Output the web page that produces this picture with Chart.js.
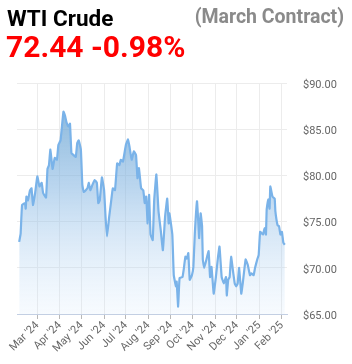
<!DOCTYPE html>
<html lang="en">
<head>
    <meta charset="UTF-8">
    <title>WTI Crude</title>
    <script src="https://cdn.jsdelivr.net/npm/chart.js@4"></script>
    <style>
        body { margin: 0; background: #fff; font-family: Roboto, sans-serif; }
        #wrap { position: relative; width: 352px; height: 364px; overflow: hidden; }
        .hd { position: absolute; font-weight: bold; line-height: 1; white-space: nowrap; }
        #name { left: 7px; top: 7px; font-size: 22.5px; color: #000; }
        #sub { right: 8px; top: 7px; font-size: 19.5px; color: #8a8a8a; }
        #price { left: 6px; top: 32px; font-size: 30px; color: #ff0000; }
        canvas { position: absolute; left: 0; top: 0; }
    </style>
</head>
<body>
<div id="wrap">
    <canvas id="wtiChart" width="352" height="364"></canvas>
    <div class="hd" id="name">WTI Crude</div>
    <div class="hd" id="sub">(March Contract)</div>
    <div class="hd" id="price">72.44 -0.98%</div>
</div>
<script>
// price samples
const dates = [
    '2024-02-05','2024-02-07','2024-02-09','2024-02-13','2024-02-14','2024-02-15','2024-02-17','2024-02-20','2024-02-22','2024-02-24','2024-02-27',
    '2024-03-01','2024-03-04','2024-03-07','2024-03-09','2024-03-13','2024-03-15','2024-03-17','2024-03-19','2024-03-22','2024-03-25','2024-03-28','2024-03-30',
    '2024-04-02','2024-04-06','2024-04-08','2024-04-10','2024-04-13','2024-04-15','2024-04-17','2024-04-20','2024-04-23','2024-04-25','2024-04-27','2024-04-30',
    '2024-05-02','2024-05-04','2024-05-09','2024-05-11','2024-05-13','2024-05-16','2024-05-19','2024-05-22','2024-05-24','2024-05-26','2024-05-29',
    '2024-06-01','2024-06-03','2024-06-05','2024-06-08','2024-06-11','2024-06-13','2024-06-16','2024-06-19','2024-06-22','2024-06-24','2024-06-27',
    '2024-07-01','2024-07-04','2024-07-06','2024-07-09','2024-07-12','2024-07-15','2024-07-17','2024-07-19','2024-07-22','2024-07-25','2024-07-27','2024-07-29','2024-07-31',
    '2024-08-02','2024-08-04','2024-08-07','2024-08-09','2024-08-12','2024-08-15','2024-08-18','2024-08-21','2024-08-24','2024-08-27','2024-08-29','2024-08-30',
    '2024-09-03','2024-09-05','2024-09-08','2024-09-09','2024-09-11','2024-09-13','2024-09-17','2024-09-19','2024-09-21','2024-09-23','2024-09-25','2024-09-27','2024-09-30',
    '2024-10-02','2024-10-04','2024-10-07','2024-10-09','2024-10-10','2024-10-12','2024-10-14','2024-10-15','2024-10-17','2024-10-20','2024-10-23','2024-10-25','2024-10-27','2024-10-30',
    '2024-11-02','2024-11-05','2024-11-07','2024-11-10','2024-11-13','2024-11-16','2024-11-17','2024-11-19','2024-11-21','2024-11-23','2024-11-26','2024-11-28','2024-11-30',
    '2024-12-02','2024-12-04','2024-12-07','2024-12-09','2024-12-13','2024-12-16','2024-12-19','2024-12-21','2024-12-24','2024-12-26','2024-12-29','2024-12-31',
    '2025-01-02','2025-01-06','2025-01-08','2025-01-10','2025-01-11','2025-01-13','2025-01-15','2025-01-16','2025-01-19','2025-01-22','2025-01-23','2025-01-26','2025-01-28','2025-01-30',
    '2025-02-01','2025-02-03','2025-02-05'
];
const prices = [
    72.8, 73.7, 76.8, 77.0, 76.4, 77.7, 77.3, 78.4, 78.6, 76.8, 78.1,
    79.9, 78.8, 79.2, 78.1, 77.6, 80.7, 81.1, 82.8, 80.7, 81.9, 81.7, 83.3,
    83.8, 86.9, 86.5, 85.8, 85.3, 85.6, 82.4, 82.2, 82.0, 83.5, 83.8, 82.8,
    79.0, 78.2, 78.6, 79.2, 78.4, 79.0, 79.5, 79.2, 77.0, 77.3, 79.8,
    78.4, 75.5, 73.4, 75.5, 77.4, 78.6, 78.4, 81.3, 81.1, 81.7, 81.5,
    83.3, 83.9, 83.1, 81.7, 82.6, 82.2, 79.7, 80.8, 78.6, 78.4, 77.0, 77.7, 74.8,
    77.9, 73.6, 73.0, 77.3, 80.1, 76.1, 74.1, 71.9, 75.5, 77.5, 74.8, 75.9,
    73.6, 69.2, 68.0, 68.5, 65.8, 68.9, 69.0, 70.0, 71.2, 71.0, 71.6, 68.7, 69.2,
    70.1, 73.7, 77.2, 74.6, 73.2, 75.9, 74.5, 70.9, 70.0, 70.9, 71.8, 69.0, 70.1, 67.2,
    69.0, 71.2, 72.3, 69.0, 68.3, 69.0, 67.0, 68.7, 69.0, 71.2, 69.4, 68.3, 68.0,
    68.3, 70.0, 67.2, 68.3, 70.9, 70.3, 69.2, 69.4, 69.2, 70.0, 70.9, 71.4,
    73.9, 73.6, 74.3, 73.6, 76.3, 77.4, 76.4, 78.8, 77.7, 77.5, 76.1, 74.6, 74.5, 73.6,
    73.9, 72.7, 72.5
];
const monthTicks = ['2024-03-01','2024-04-01','2024-05-01','2024-06-01','2024-07-01','2024-08-01',
    '2024-09-01','2024-10-01','2024-11-01','2024-12-01','2025-01-01','2025-02-01'];
const monthLabels = ["Mar '24","Apr '24","May '24","Jun '24","Jul '24","Aug '24",
    "Sep '24","Oct '24","Nov '24","Dec '24","Jan '25","Feb '25"];
const priceTicks = [65, 70, 75, 80, 85, 90];

const toMs = s => Date.parse(s + 'T00:00:00Z');
const points = dates.map((d, i) => ({ x: toMs(d), y: prices[i] }));
const tickMs = monthTicks.map(toMs);

const ctx = document.getElementById('wtiChart').getContext('2d');
new Chart(ctx, {
    type: 'line',
    data: {
        datasets: [{
            data: points,
            borderColor: '#7ab3e9',
            borderWidth: 2.2,
            pointRadius: 0,
            tension: 0.1,
            fill: 'start',
            backgroundColor: function(c) {
                const area = c.chart.chartArea;
                if (!area) return 'rgba(125,181,234,0.4)';
                const g = c.chart.ctx.createLinearGradient(0, area.top, 0, area.bottom);
                g.addColorStop(0, 'rgba(100,160,205,0.85)');
                g.addColorStop(0.45, 'rgba(130,180,225,0.55)');
                g.addColorStop(1, 'rgba(200,225,250,0.15)');
                return g;
            }
        }]
    },
    options: {
        responsive: false,
        animation: false,
        layout: { padding: { top: 83, left: 17, right: 0, bottom: 0 } },
        plugins: { legend: { display: false }, tooltip: { enabled: false } },
        scales: {
            x: {
                type: 'linear',
                min: toMs('2024-02-02'),
                max: toMs('2025-02-08'),
                afterBuildTicks: s => { s.ticks = tickMs.map(v => ({ value: v })); },
                afterFit: s => { s.height = 50; },
                grid: { color: '#ececec', tickColor: '#b8b8b8', tickLength: 5 },
                border: { color: '#c3cfe3', width: 1 },
                ticks: {
                    autoSkip: false,
                    minRotation: 45,
                    maxRotation: 45,
                    padding: 0,
                    color: '#666',
                    font: { family: 'Roboto', size: 11 },
                    callback: v => monthLabels[tickMs.indexOf(v)]
                }
            },
            y: {
                position: 'right',
                min: 65,
                max: 90,
                afterBuildTicks: s => { s.ticks = priceTicks.map(v => ({ value: v })); },
                afterFit: s => { s.width = 65; },
                grid: { color: '#ececec', drawTicks: false },
                border: { display: false },
                ticks: {
                    padding: 16,
                    labelOffset: 2,
                    color: '#666',
                    font: { family: 'Roboto', size: 11 },
                    callback: v => '$' + v.toFixed(2)
                }
            }
        }
    }
});
</script>
</body>
</html>
